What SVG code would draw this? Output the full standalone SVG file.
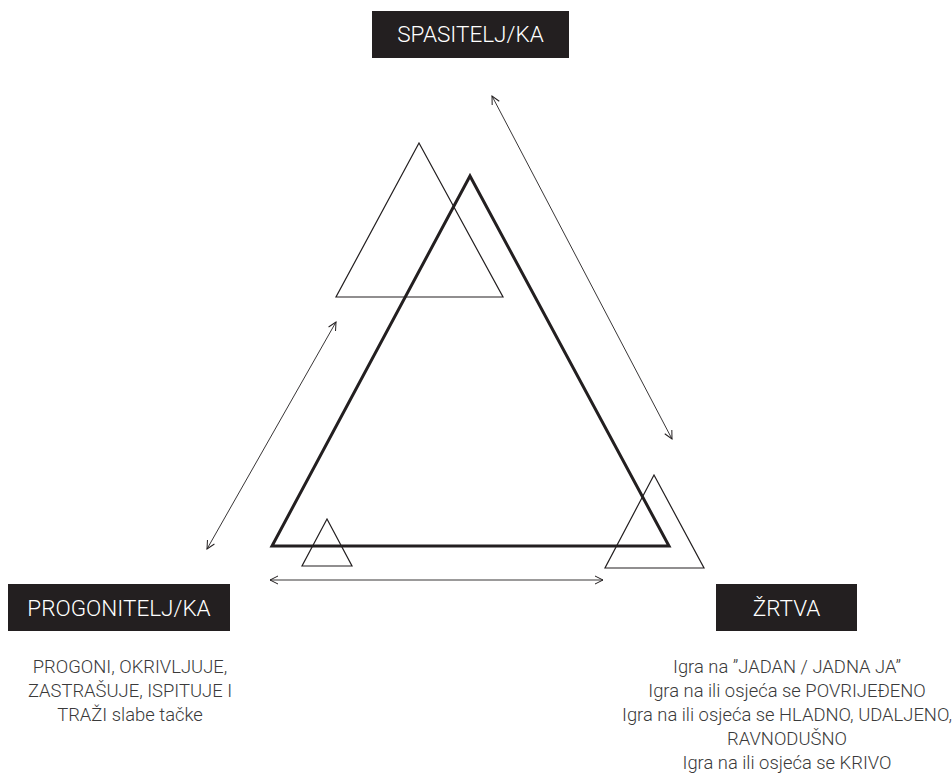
<svg xmlns="http://www.w3.org/2000/svg" width="952" height="777" viewBox="0 0 952 777">
<defs>
<marker id="ah" viewBox="0 0 10 10" refX="9" refY="5" markerWidth="10" markerHeight="10" markerUnits="userSpaceOnUse" orient="auto-start-reverse">
<path d="M1,1 L9,5 L1,9" fill="none" stroke="#231f20" stroke-width="1"/>
</marker>
</defs>
<style>
.box{fill:#231f20}
.lbl{font-family:Roboto,"Liberation Sans",sans-serif;font-weight:300;font-size:22.5px;fill:#ffffff;text-anchor:middle}
.desc{font-family:Roboto,"Liberation Sans",sans-serif;font-weight:300;font-size:18.4px;fill:#3a3a3a;text-anchor:middle}
.tri{fill:none;stroke:#231f20;stroke-width:1.2;stroke-linejoin:miter}
.big{fill:none;stroke:#231f20;stroke-width:3;stroke-linejoin:miter}
.arr{fill:none;stroke:#231f20;stroke-width:0.9;marker-start:url(#ah);marker-end:url(#ah)}
</style>
<rect width="952" height="777" fill="#ffffff"/>
<g id="triangles">
<polygon class="tri" points="419,143 503,297 336,297"/>
<polygon class="big" points="470,176 669,546 272,546"/>
<polygon class="tri" points="327,519 352,566 302,566"/>
<polygon class="tri" points="654,475 704,568 605,568"/>
</g>
<g id="connectors">
<line class="arr" x1="492" y1="96" x2="672" y2="439"/>
<line class="arr" x1="336" y1="322" x2="207" y2="549"/>
<line class="arr" x1="270" y1="580" x2="603" y2="580"/>
</g>
<g id="spasitelj">
<rect class="box" x="372" y="11" width="197" height="47"/>
<text class="lbl" x="470.5" y="42">SPASITELJ/KA</text>
</g>
<g id="progonitelj">
<rect class="box" x="8" y="584" width="222" height="47"/>
<text class="lbl" x="119" y="616">PROGONITELJ/KA</text>
<text class="desc" x="130" y="673">PROGONI, OKRIVLJUJE,</text>
<text class="desc" x="130" y="697">ZASTRAŠUJE, ISPITUJE I</text>
<text class="desc" x="130" y="721">TRAŽI slabe tačke</text>
</g>
<g id="zrtva">
<rect class="box" x="716" y="584" width="141" height="47"/>
<text class="lbl" x="786.5" y="616">ŽRTVA</text>
<text class="desc" x="787" y="673">Igra na ”JADAN / JADNA JA”</text>
<text class="desc" x="787" y="697">Igra na ili osjeća se POVRIJEĐENO</text>
<text class="desc" x="787" y="721">Igra na ili osjeća se HLADNO, UDALJENO,</text>
<text class="desc" x="787" y="745">RAVNODUŠNO</text>
<text class="desc" x="787" y="769">Igra na ili osjeća se KRIVO</text>
</g>
</svg>
